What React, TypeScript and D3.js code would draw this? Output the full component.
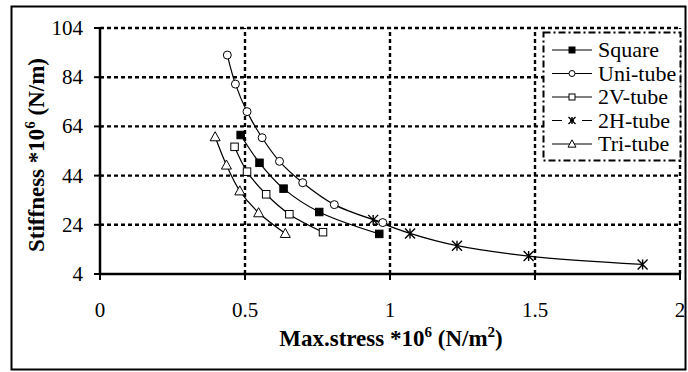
import { useRef, useEffect } from 'react';
import * as d3 from 'd3';

const seriesNames = ['Square', 'Uni-tube', '2V-tube', '2H-tube', 'Tri-tube'];
const squareX = [0.485, 0.55, 0.633, 0.756, 0.963];
const squareY = [60.5, 49.2, 38.7, 29.2, 20.3];
const uniX = [0.439, 0.467, 0.507, 0.559, 0.619, 0.699, 0.808, 0.975];
const uniY = [93, 81.2, 70, 59.4, 49.8, 41.1, 32.2, 24.9];
const twoVX = [0.464, 0.507, 0.573, 0.653, 0.769];
const twoVY = [55.7, 45.6, 36.4, 28.3, 21.0];
const twoHX = [0.942, 1.069, 1.231, 1.478, 1.871];
const twoHY = [26, 20.5, 15.5, 11.3, 7.9];
const triX = [0.397, 0.436, 0.482, 0.547, 0.639];
const triY = [59.8, 48.3, 37.8, 28.9, 20.5];
const xTicks = [0, 0.5, 1, 1.5, 2];
const yTicks = [4, 24, 44, 64, 84, 104];

type Pt = { x: number; y: number };
const zip = (xs: number[], ys: number[]): Pt[] => xs.map((x, i) => ({ x, y: ys[i] }));

const FONT = 'Liberation Serif';

export default function App() {
  const ref = useRef<SVGGElement>(null);

  useEffect(() => {
    const svg = d3.select(ref.current);
    svg.selectAll('*').remove();

    const x = d3.scaleLinear().domain([0, 2]).range([100, 680]);
    const y = d3.scaleLinear().domain([4, 104]).range([274, 28]);
    const txt = (sel: any) => sel.append('text').attr('font-family', FONT);

    // outer frame
    svg.append('rect').attr('x', 11.5).attr('y', 6.5).attr('width', 674).attr('height', 363)
      .attr('fill', '#fff').attr('stroke', '#000').attr('stroke-width', 2);

    // dotted grid
    const grid = svg.append('g').attr('stroke', '#000').attr('stroke-width', 2.4).attr('stroke-dasharray', '4,3');
    yTicks.slice(1).forEach(t => {
      grid.append('line').attr('x1', x(0)).attr('x2', x(2)).attr('y1', y(t)).attr('y2', y(t));
    });
    xTicks.slice(1).forEach(t => {
      grid.append('line').attr('x1', x(t)).attr('x2', x(t)).attr('y1', y(4)).attr('y2', y(104));
    });

    // axes
    svg.append('line').attr('x1', x(0)).attr('x2', x(2)).attr('y1', y(4)).attr('y2', y(4))
      .attr('stroke', '#000').attr('stroke-width', 2.5);
    svg.append('line').attr('x1', x(0)).attr('x2', x(0)).attr('y1', y(4)).attr('y2', y(104))
      .attr('stroke', '#000').attr('stroke-width', 2.5);
    xTicks.forEach(t => {
      svg.append('line').attr('x1', x(t)).attr('x2', x(t)).attr('y1', y(4) - 3).attr('y2', y(4) + 6)
        .attr('stroke', '#000').attr('stroke-width', 2);
      txt(svg).attr('x', x(t)).attr('y', 317).attr('text-anchor', 'middle')
        .attr('font-size', 21).text(d3.format('~g')(t));
    });
    yTicks.forEach(t => {
      svg.append('line').attr('x1', x(0) - 6).attr('x2', x(0) + 3).attr('y1', y(t)).attr('y2', y(t))
        .attr('stroke', '#000').attr('stroke-width', 2);
      txt(svg).attr('x', 83).attr('y', y(t) + 7).attr('text-anchor', 'end')
        .attr('font-size', 21).text(t);
    });

    // axis titles
    const xt = txt(svg).attr('x', 391).attr('y', 346).attr('text-anchor', 'middle')
      .attr('font-size', 23).attr('font-weight', 'bold');
    xt.append('tspan').text('Max.stress *10');
    xt.append('tspan').attr('dy', -9).attr('font-size', 15).text('6');
    xt.append('tspan').attr('dy', 9).text(' (N/m');
    xt.append('tspan').attr('dy', -9).attr('font-size', 15).text('2');
    xt.append('tspan').attr('dy', 9).text(')');

    const yt = txt(svg).attr('transform', 'translate(44,155) rotate(-90)').attr('text-anchor', 'middle')
      .attr('font-size', 23).attr('font-weight', 'bold');
    yt.append('tspan').text('Stiffness *10');
    yt.append('tspan').attr('dy', -9).attr('font-size', 15).text('6');
    yt.append('tspan').attr('dy', 9).text(' (N/m)');

    // markers
    const marker = (g: any, kind: string, cx: number, cy: number, s: number) => {
      if (kind === 'Square') {
        g.append('rect').attr('x', cx - s / 2).attr('y', cy - s / 2).attr('width', s).attr('height', s)
          .attr('fill', '#000').attr('stroke', '#000').attr('stroke-width', 1);
      } else if (kind === 'Uni-tube') {
        g.append('circle').attr('cx', cx).attr('cy', cy).attr('r', s / 2)
          .attr('fill', '#fff').attr('stroke', '#000').attr('stroke-width', 1);
      } else if (kind === '2V-tube') {
        g.append('rect').attr('x', cx - s / 2).attr('y', cy - s / 2).attr('width', s).attr('height', s)
          .attr('fill', '#fff').attr('stroke', '#000').attr('stroke-width', 1);
      } else if (kind === 'Tri-tube') {
        const h = s * 0.9;
        g.append('path')
          .attr('d', `M${cx},${cy - h / 2 - 1}L${cx + s / 2 + 0.5},${cy + h / 2}L${cx - s / 2 - 0.5},${cy + h / 2}Z`)
          .attr('fill', '#fff').attr('stroke', '#000').attr('stroke-width', 1);
      } else {
        const r = s / 2;
        g.append('path')
          .attr('d', `M${cx - r},${cy - r}L${cx + r},${cy + r}M${cx + r},${cy - r}L${cx - r},${cy + r}M${cx},${cy - r}L${cx},${cy + r}`)
          .attr('fill', 'none').attr('stroke', '#000').attr('stroke-width', 1.4);
      }
    };

    const data: [string, Pt[]][] = [
      ['Uni-tube', zip(uniX, uniY)],
      ['2H-tube', zip(twoHX, twoHY)],
      ['Square', zip(squareX, squareY)],
      ['2V-tube', zip(twoVX, twoVY)],
      ['Tri-tube', zip(triX, triY)],
    ];

    const line = d3.line<Pt>().x(d => x(d.x)).y(d => y(d.y)).curve(d3.curveCatmullRom.alpha(0.5));
    const plot = svg.append('g');
    data.forEach(([, pts]) => {
      plot.append('path').attr('d', line(pts)).attr('fill', 'none')
        .attr('stroke', '#000').attr('stroke-width', 1.2);
    });
    data.forEach(([name, pts]) => {
      const size = name === 'Uni-tube' ? 8 : name === 'Tri-tube' ? 9 : name === '2H-tube' ? 10 : 7.5;
      pts.forEach(p => marker(plot, name, x(p.x), y(p.y), size));
    });

    // legend
    const lg = svg.append('g');
    lg.append('rect').attr('x', 543.5).attr('y', 32.5).attr('width', 137).attr('height', 128)
      .attr('fill', '#fff').attr('stroke', '#000').attr('stroke-width', 2)
      .attr('stroke-dasharray', '7,3,2,3');
    seriesNames.forEach((name, i) => {
      const ly = 50 + i * 23.5;
      lg.append('line').attr('x1', 552).attr('x2', 592).attr('y1', ly).attr('y2', ly)
        .attr('stroke', '#000').attr('stroke-width', 1.2)
        .attr('stroke-dasharray', name === '2H-tube' ? '10,8,4,8,10' : null);
      marker(lg, name, 572, ly, name === 'Tri-tube' ? 7 : name === '2H-tube' ? 7 : 6);
      txt(lg).attr('x', 598).attr('y', ly + 7).attr('font-size', 22).text(name);
    });
  }, []);

  return (
    <svg width={688} height={372} fontFamily={FONT}
      style={{ position: 'absolute', left: 0, top: 0, background: '#fff' }}>
      <g ref={ref} />
    </svg>
  );
}
